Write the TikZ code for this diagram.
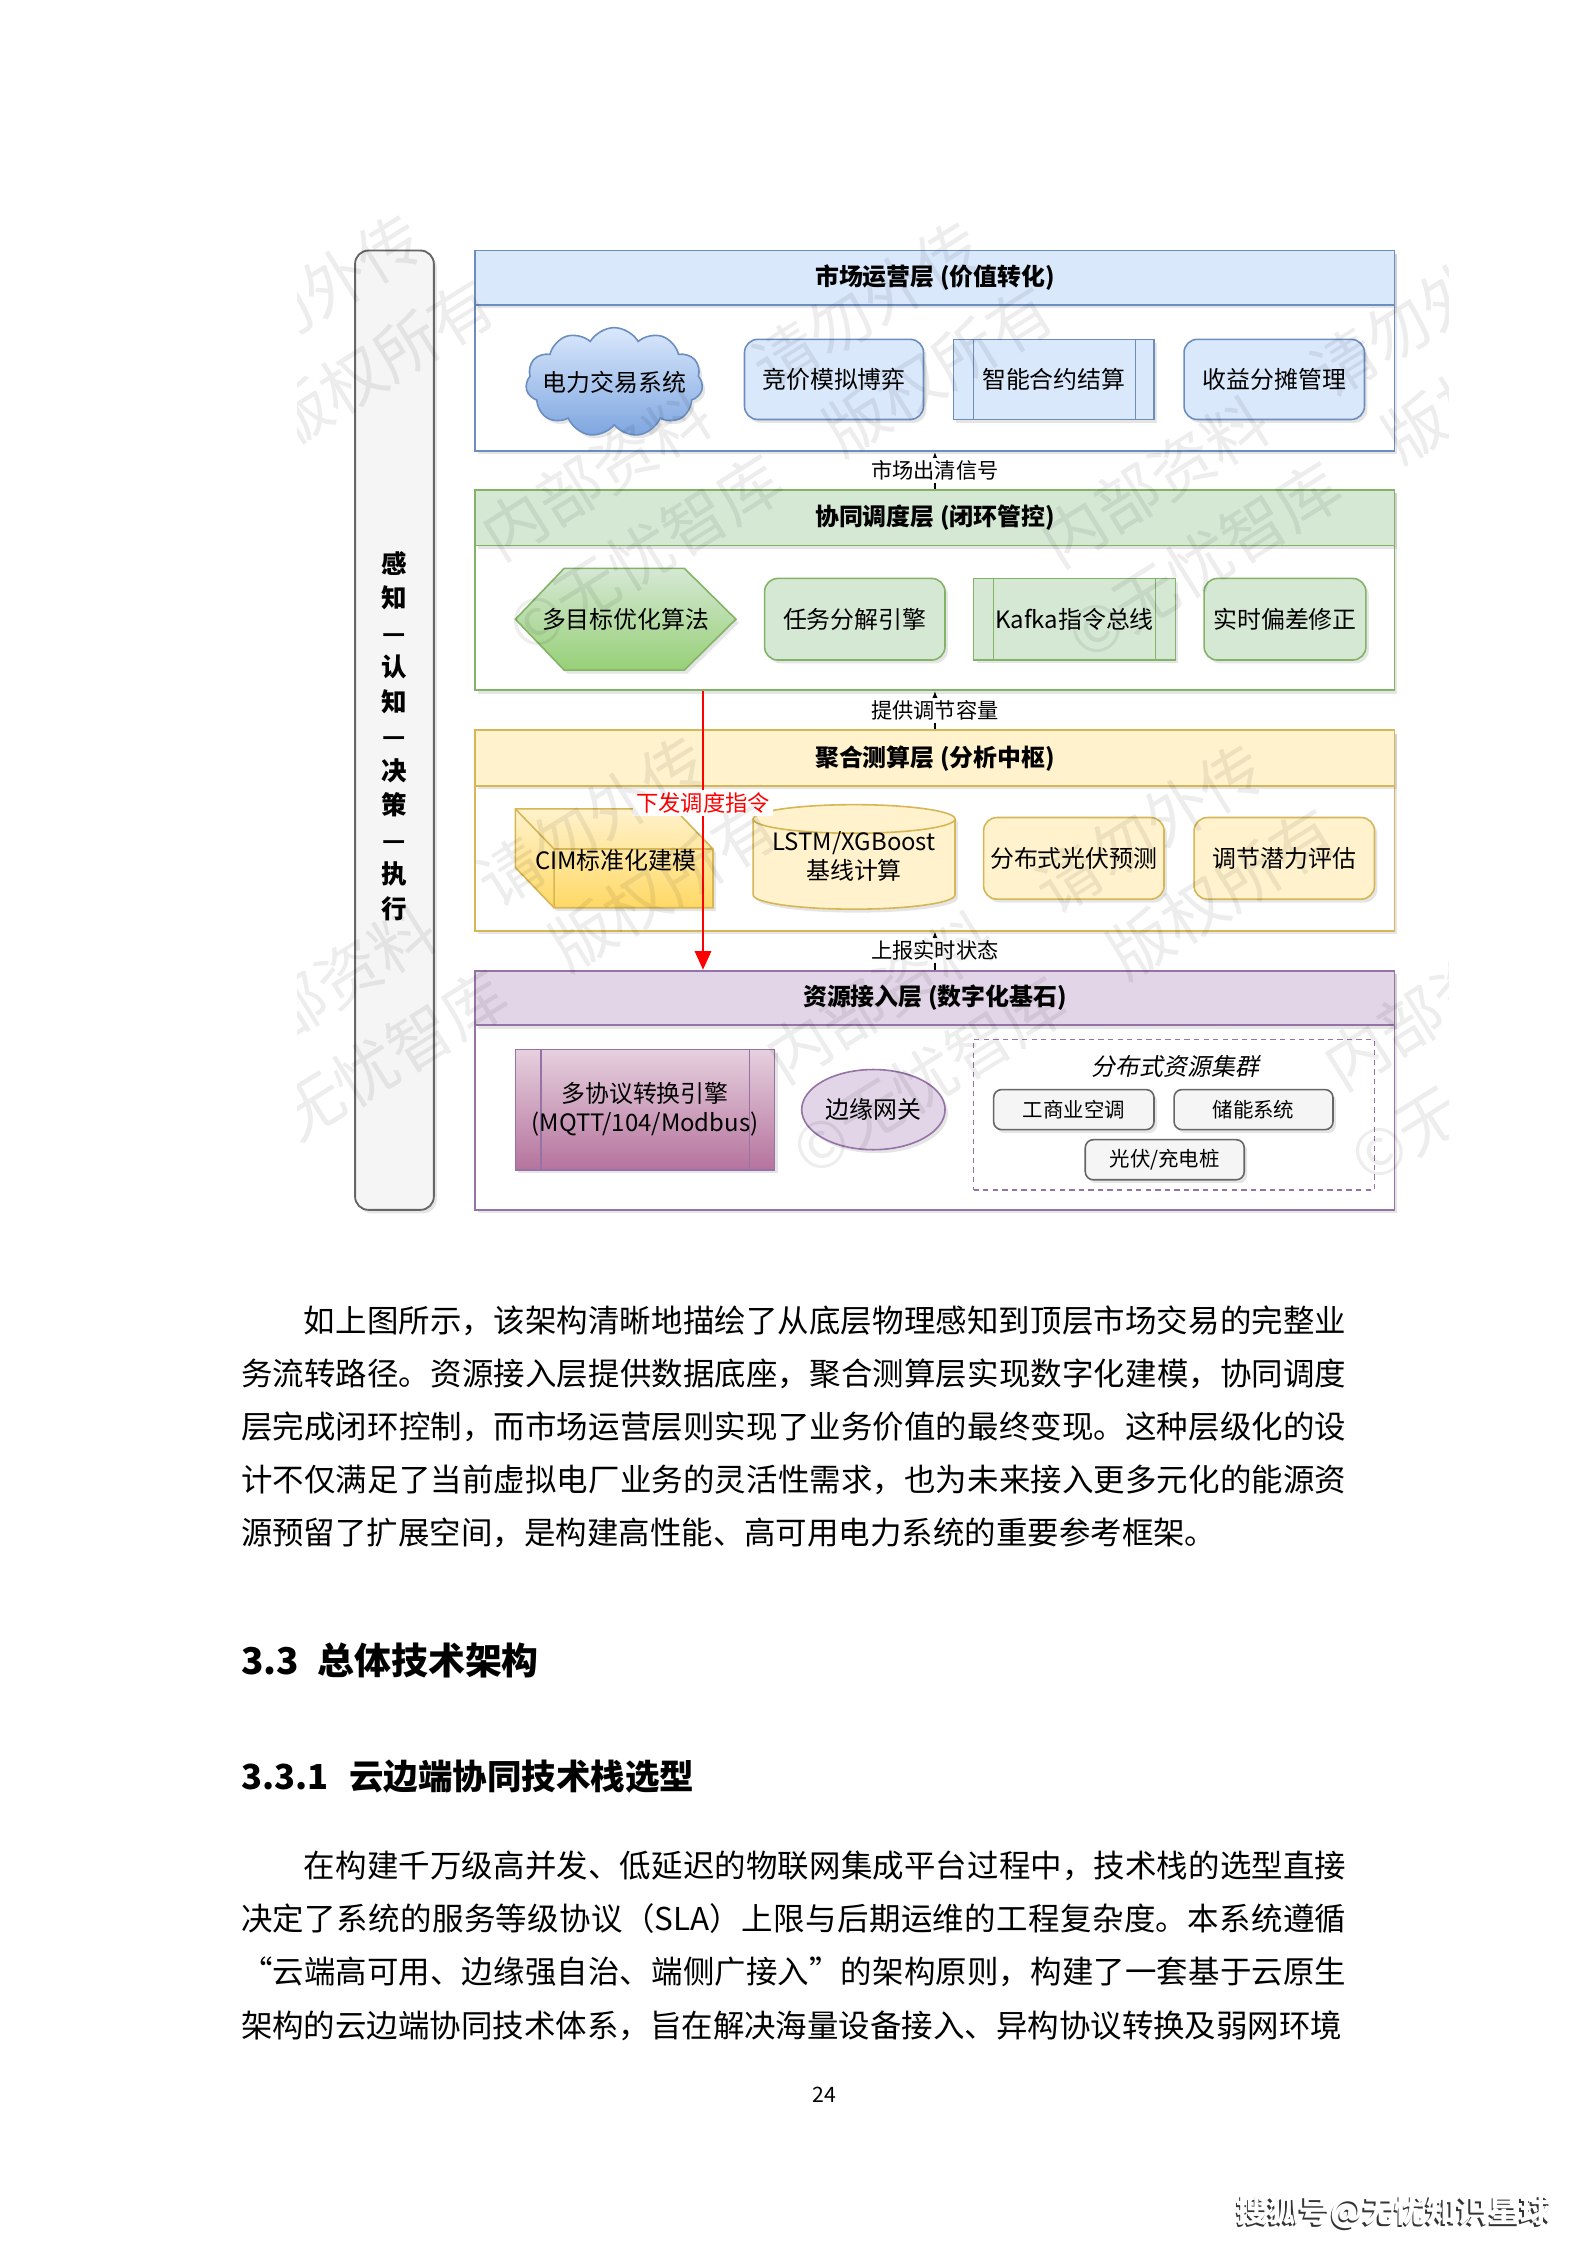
\documentclass[tikz,border=0pt]{standalone}
\usepackage{fontspec}
\setmainfont{Noto Sans CJK SC}
\newfontfamily\slantcjk{Noto Sans CJK SC}[FakeSlant=0.2]
\usetikzlibrary{arrows.meta,shadows,fit,shapes.symbols,shapes.geometric}
\XeTeXlinebreaklocale "zh"
\XeTeXlinebreakskip=0pt plus 1pt

\definecolor{bluefill}{HTML}{DAE8FC}
\definecolor{blueline}{HTML}{6C8EBF}
\definecolor{bluedeep}{HTML}{7EA6E0}
\definecolor{greenfill}{HTML}{D5E8D4}
\definecolor{greenline}{HTML}{82B366}
\definecolor{greendeep}{HTML}{97D077}
\definecolor{yellowfill}{HTML}{FFF2CC}
\definecolor{yellowline}{HTML}{D6B656}
\definecolor{yellowdeep}{HTML}{FFD966}
\definecolor{purplefill}{HTML}{E1D5E7}
\definecolor{purpleline}{HTML}{9673A6}
\definecolor{purplelight}{HTML}{E6D0DE}
\definecolor{purpledeep}{HTML}{B5739D}
\definecolor{grayfill}{HTML}{F5F5F5}
\definecolor{grayline}{HTML}{666666}

\tikzset{
  softshadow/.style={drop shadow={shadow xshift=1.1pt,shadow yshift=-1.3pt,opacity=0.2}},
  layerbox/.style={draw=#1,fill=white,line width=0.7pt,inner sep=0pt,softshadow},
  layerhead/.style={draw=#1,line width=0.7pt,inner sep=0pt,softshadow},
  titletext/.style={inner sep=0pt,font=\bfseries\fontsize{9}{11}\selectfont},
  card/.style={draw=#1,line width=0.6pt,rounded corners=5pt,inner sep=0pt,softshadow},
  procbox/.style={draw=#1,line width=0.6pt,inner sep=0pt,softshadow},
  boxtext/.style={inner sep=0pt,align=center,font=\fontsize{9}{11}\selectfont},
  smallcard/.style={draw=grayline,fill=grayfill,line width=0.6pt,rounded corners=3pt,inner sep=0pt,softshadow},
  smalltext/.style={inner sep=0pt,font=\fontsize{7.7}{9}\selectfont},
  sig/.style={line width=0.5pt,-{Latex[length=3pt,width=2.4pt]}},
  siglabel/.style={fill=white,inner sep=1pt,font=\fontsize{8}{10}\selectfont},
  cmdline/.style={red,line width=1.1pt,-{Triangle[length=7pt,width=6pt]}},
  wmark/.style={rotate=32,align=center,inner sep=0pt,text=black,text opacity=0.07,font=\fontsize{24}{35}\selectfont},
  bodytext/.style={anchor=base west,inner sep=0pt,text width=146.32mm,align=justify,font=\fontsize{11.85}{20.03}\selectfont}
}

\begin{document}
\begin{tikzpicture}[x=0.18953mm,y=-0.18953mm]
  \useasboundingbox (0,0) rectangle (1108,1568);
  \fill[white] (0,0) rectangle (1108,1568);

  % side strip
  \node[draw=grayline,fill=grayfill,line width=0.7pt,rounded corners=5pt,inner sep=0pt,softshadow,fit={(248,175) (303,845)}] (flow) {};
  \node[inner sep=0pt,align=center,font=\bfseries\fontsize{9.6}{13}\selectfont] (flowT) at (275.5,514) {感\\知\\—\\认\\知\\—\\决\\策\\—\\执\\行};

  % market layer
  \node[layerbox=blueline,fit={(332,175) (974,315)}] (mkt) {};
  \node[layerhead=blueline,fill=bluefill,fit={(332,175) (974,213)}] (mktH) {};
  \node[titletext] (mktHT) at (mktH) {市场运营层 (价值转化)};
  \node[cloud,cloud puffs=11,cloud puff arc=120,aspect=2,draw=blueline,line width=0.6pt,top color=bluefill,bottom color=bluedeep,inner sep=0pt,softshadow,fit={(387,251) (471,283)}] (trade) {};
  \node[boxtext] (tradeT) at (trade) {电力交易系统};
  \node[card=blueline,fill=bluefill,fit={(520,237) (645,293)}] (bid) {};
  \node[boxtext] (bidT) at (bid) {竞价模拟博弈};
  \node[procbox=blueline,fill=bluefill,fit={(666,237) (806,293)}] (settle) {};
  \draw[blueline,line width=0.6pt] (680,237) -- (680,293) (793,237) -- (793,293);
  \node[boxtext] (settleT) at (settle) {智能合约结算};
  \node[card=blueline,fill=bluefill,fit={(827,237) (953,293)}] (share) {};
  \node[boxtext] (shareT) at (share) {收益分摊管理};

  % dispatch layer
  \node[layerbox=greenline,fit={(332,342) (974,482)}] (sch) {};
  \node[layerhead=greenline,fill=greenfill,fit={(332,342) (974,381)}] (schH) {};
  \node[titletext] (schHT) at (schH) {协同调度层 (闭环管控)};
  \path[draw=greenline,line width=0.6pt,top color=greenfill,bottom color=greendeep,softshadow]
    (360,432.5) -- (394,397) -- (478,397) -- (514,432.5) -- (478,468) -- (394,468) -- cycle;
  \node[boxtext] (opt) at (437,432.5) {多目标优化算法};
  \node[card=greenline,fill=greenfill,fit={(534,404) (660,461)}] (task) {};
  \node[boxtext] (taskT) at (task) {任务分解引擎};
  \node[procbox=greenline,fill=greenfill,fit={(680,404) (821,461)}] (kafka) {};
  \draw[greenline,line width=0.6pt] (694,404) -- (694,461) (807,404) -- (807,461);
  \node[boxtext] (kafkaT) at (kafka) {Kafka指令总线};
  \node[card=greenline,fill=greenfill,fit={(841,404) (954,461)}] (fix) {};
  \node[boxtext] (fixT) at (fix) {实时偏差修正};

  % aggregation layer
  \node[layerbox=yellowline,fit={(332,510) (974,650)}] (agg) {};
  \node[layerhead=yellowline,fill=yellowfill,fit={(332,510) (974,549)}] (aggH) {};
  \node[titletext] (aggHT) at (aggH) {聚合测算层 (分析中枢)};
  \path[draw=yellowline,line width=0.6pt,top color=yellowfill,bottom color=yellowdeep,softshadow]
    (360,565) -- (471,565) -- (498,593) -- (498,634) -- (387,634) -- (360,606) -- cycle;
  \draw[yellowline,line width=0.6pt] (360,565) -- (387,593) -- (498,593) (387,593) -- (387,634);
  \node[boxtext] (cim) at (430,601) {CIM标准化建模};
  \path[draw=yellowline,line width=0.6pt,fill=yellowfill,softshadow]
    (526,572) -- (526,625) arc[start angle=180,end angle=0,x radius=70.5,y radius=10]
    -- (667,572) arc[start angle=0,end angle=-180,x radius=70.5,y radius=10] -- cycle;
  \draw[yellowline,line width=0.6pt] (526,572) arc[start angle=180,end angle=0,x radius=70.5,y radius=10];
  \node[boxtext] (lstm) at (596.5,598) {LSTM/XGBoost\\基线计算};
  \node[card=yellowline,fill=yellowfill,fit={(687,571) (813,628)}] (pvf) {};
  \node[boxtext] (pvfT) at (pvf) {分布式光伏预测};
  \node[card=yellowline,fill=yellowfill,fit={(834,571) (960,628)}] (adj) {};
  \node[boxtext] (adjT) at (adj) {调节潜力评估};

  % access layer
  \node[layerbox=purpleline,fit={(332,678) (974,845)}] (res) {};
  \node[layerhead=purpleline,fill=purplefill,fit={(332,678) (974,716)}] (resH) {};
  \node[titletext] (resHT) at (resH) {资源接入层 (数字化基石)};
  \node[procbox=purpleline,top color=purplelight,bottom color=purpledeep,fit={(360,733) (541,817)}] (proto) {};
  \draw[purpleline,line width=0.6pt] (378,733) -- (378,817) (523.5,733) -- (523.5,817);
  \node[boxtext] (protoT) at (proto) {多协议转换引擎\\(MQTT/104/Modbus)};
  \node[ellipse,draw=purpleline,fill=purplefill,line width=0.6pt,inner sep=0pt,softshadow,fit={(574.6,755.2) (645.4,794.8)}] (gw) {};
  \node[boxtext] (gwT) at (gw) {边缘网关};
  \node[draw=purpleline,line width=0.6pt,dash pattern=on 2pt off 1.6pt,inner sep=0pt,fit={(680,726) (960,831)}] (cluster) {};
  \node[inner sep=0pt,font=\slantcjk\fontsize{9}{11}\selectfont] (clusterT) at (821,745) {分布式资源集群};
  \node[smallcard,fit={(694,761) (806,789)}] (hvac) {};
  \node[smalltext] (hvacT) at (hvac) {工商业空调};
  \node[smallcard,fit={(820,761) (931,789)}] (ess) {};
  \node[smalltext] (essT) at (ess) {储能系统};
  \node[smallcard,fit={(758,796) (869,824)}] (pvcs) {};
  \node[smalltext] (pvcsT) at (pvcs) {光伏/充电桩};

  % links between layers
  \draw[sig] (sch) -- node[siglabel] (lbA) {市场出清信号} (mkt);
  \draw[sig] (agg) -- node[siglabel] (lbB) {提供调节容量} (sch);
  \draw[sig] (res) -- node[siglabel] (lbC) {上报实时状态} (agg);
  \coordinate (cmdx) at (491,0);
  \draw[cmdline] (cmdx |- sch.south) -- node[pos=0.403,fill=white,inner sep=1pt,text=red,font=\fontsize{8.4}{10}\selectfont] (cmdL) {下发调度指令} (cmdx |- res.north);

  % watermark
  \begin{scope}
    \clip (208,130) rectangle (1012,862);
    \foreach \i in {-2,...,2}{
      \foreach \j in {-1,...,2}{
        \node[wmark] (wm\i\j) at ({528+390*\i+198*\j},{300+5*\i+365*\j}) {内部资料\hspace{1em}请勿外传\\©无忧智库\hspace{1em}版权所有};
      }
    }
  \end{scope}

  % text of the page
  \node[bodytext] (para1) at (168,930.4) {\hspace*{2em}如上图所示，该架构清晰地描绘了从底层物理感知到顶层市场交易的完整业\break
    务流转路径。资源接入层提供数据底座，聚合测算层实现数字化建模，协同调度\break
    层完成闭环控制，而市场运营层则实现了业务价值的最终变现。这种层级化的设\break
    计不仅满足了当前虚拟电厂业务的灵活性需求，也为未来接入更多元化的能源资\break
    源预留了扩展空间，是构建高性能、高可用电力系统的重要参考框架。};
  \node[anchor=base west,inner sep=0pt,font=\bfseries\fontsize{13.9}{16}\selectfont] (sec) at (168,1169.8) {3.3\hspace{0.5em}总体技术架构};
  \node[anchor=base west,inner sep=0pt,font=\bfseries\fontsize{13}{16}\selectfont] (subsec) at (168,1250) {3.3.1\hspace{0.6em}云边端协同技术栈选型};
  \node[bodytext] (para2) at (168,1311.4) {\parfillskip=0pt\hspace*{2em}在构建千万级高并发、低延迟的物联网集成平台过程中，技术栈的选型直接\break
    决定了系统的服务等级协议（SLA）上限与后期运维的工程复杂度。本系统遵循\break
    “云端高可用、边缘强自治、端侧广接入”的架构原则，构建了一套基于云原生\break
    架构的云边端协同技术体系，旨在解决海量设备接入、异构协议转换及弱网环境};
  \node[inner sep=0pt,font=\fontsize{8}{10}\selectfont] (pgno) at (576,1463) {24};
  \node[inner sep=0pt,font=\bfseries\fontsize{11.8}{14}\selectfont,text=black!80] (sohuS) at (972.6,1546.2) {搜狐号@无忧知识星球};
  \node[inner sep=0pt,font=\bfseries\fontsize{11.8}{14}\selectfont,text=white] (sohu) at (973.8,1545) {搜狐号@无忧知识星球};
\end{tikzpicture}
\end{document}
